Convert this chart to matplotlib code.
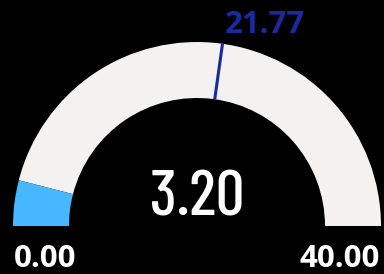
import matplotlib
matplotlib.use('Agg')
import matplotlib.pyplot as plt
from matplotlib.patches import Wedge
import numpy as np

# gauge data
min_val = 0.0
max_val = 40.0
value = 3.20
target = 21.77

bg = '#000000'
track_color = '#F3F2F1'
fill_color = '#45B8FF'
target_color = '#1A2A9E'

cx, cy = 197, 48   # pixel coords, y up
r_out, r_in = 184, 128

def val2ang(v):
    return 180.0 - 180.0 * (v - min_val) / (max_val - min_val)

fig = plt.figure(figsize=(3.84, 2.74), dpi=100, facecolor=bg)
ax = fig.add_axes([0, 0, 1, 1])
ax.set_facecolor(bg)
ax.set_xlim(0, 384)
ax.set_ylim(0, 274)
ax.axis('off')

a_val = val2ang(value)
ax.add_patch(Wedge((cx, cy), r_out, 0, a_val, width=r_out - r_in,
                   facecolor=track_color, edgecolor='none'))
ax.add_patch(Wedge((cx, cy), r_out, a_val, 180, width=r_out - r_in,
                   facecolor=fill_color, edgecolor='none'))

a_t = np.radians(val2ang(target))
ax.plot([cx + r_in * np.cos(a_t), cx + r_out * np.cos(a_t)],
        [cy + r_in * np.sin(a_t), cy + r_out * np.sin(a_t)],
        color=target_color, lw=2.2, solid_capstyle='butt')

ax.text(cx, 59, '%.2f' % value, color='white', fontsize=46, fontweight=500,
        family=['Barlow Condensed', 'DejaVu Sans'],
        ha='center', va='baseline')
ax.text(cx + r_out * np.cos(a_t) + 2, 241, '%.2f' % target, color=target_color,
        fontsize=22.5, fontweight='bold', family=['Open Sans', 'DejaVu Sans'],
        ha='left', va='baseline')
ax.text(cx - r_out + 1, 7, '%.2f' % min_val, color='white', fontsize=22.5,
        fontweight='bold', family=['Open Sans', 'DejaVu Sans'], ha='left', va='baseline')
ax.text(cx + r_out - 1, 7, '%.2f' % max_val, color='white', fontsize=22.5,
        fontweight='bold', family=['Open Sans', 'DejaVu Sans'], ha='right', va='baseline')

fig.savefig('out.png', dpi=100, facecolor=bg)
